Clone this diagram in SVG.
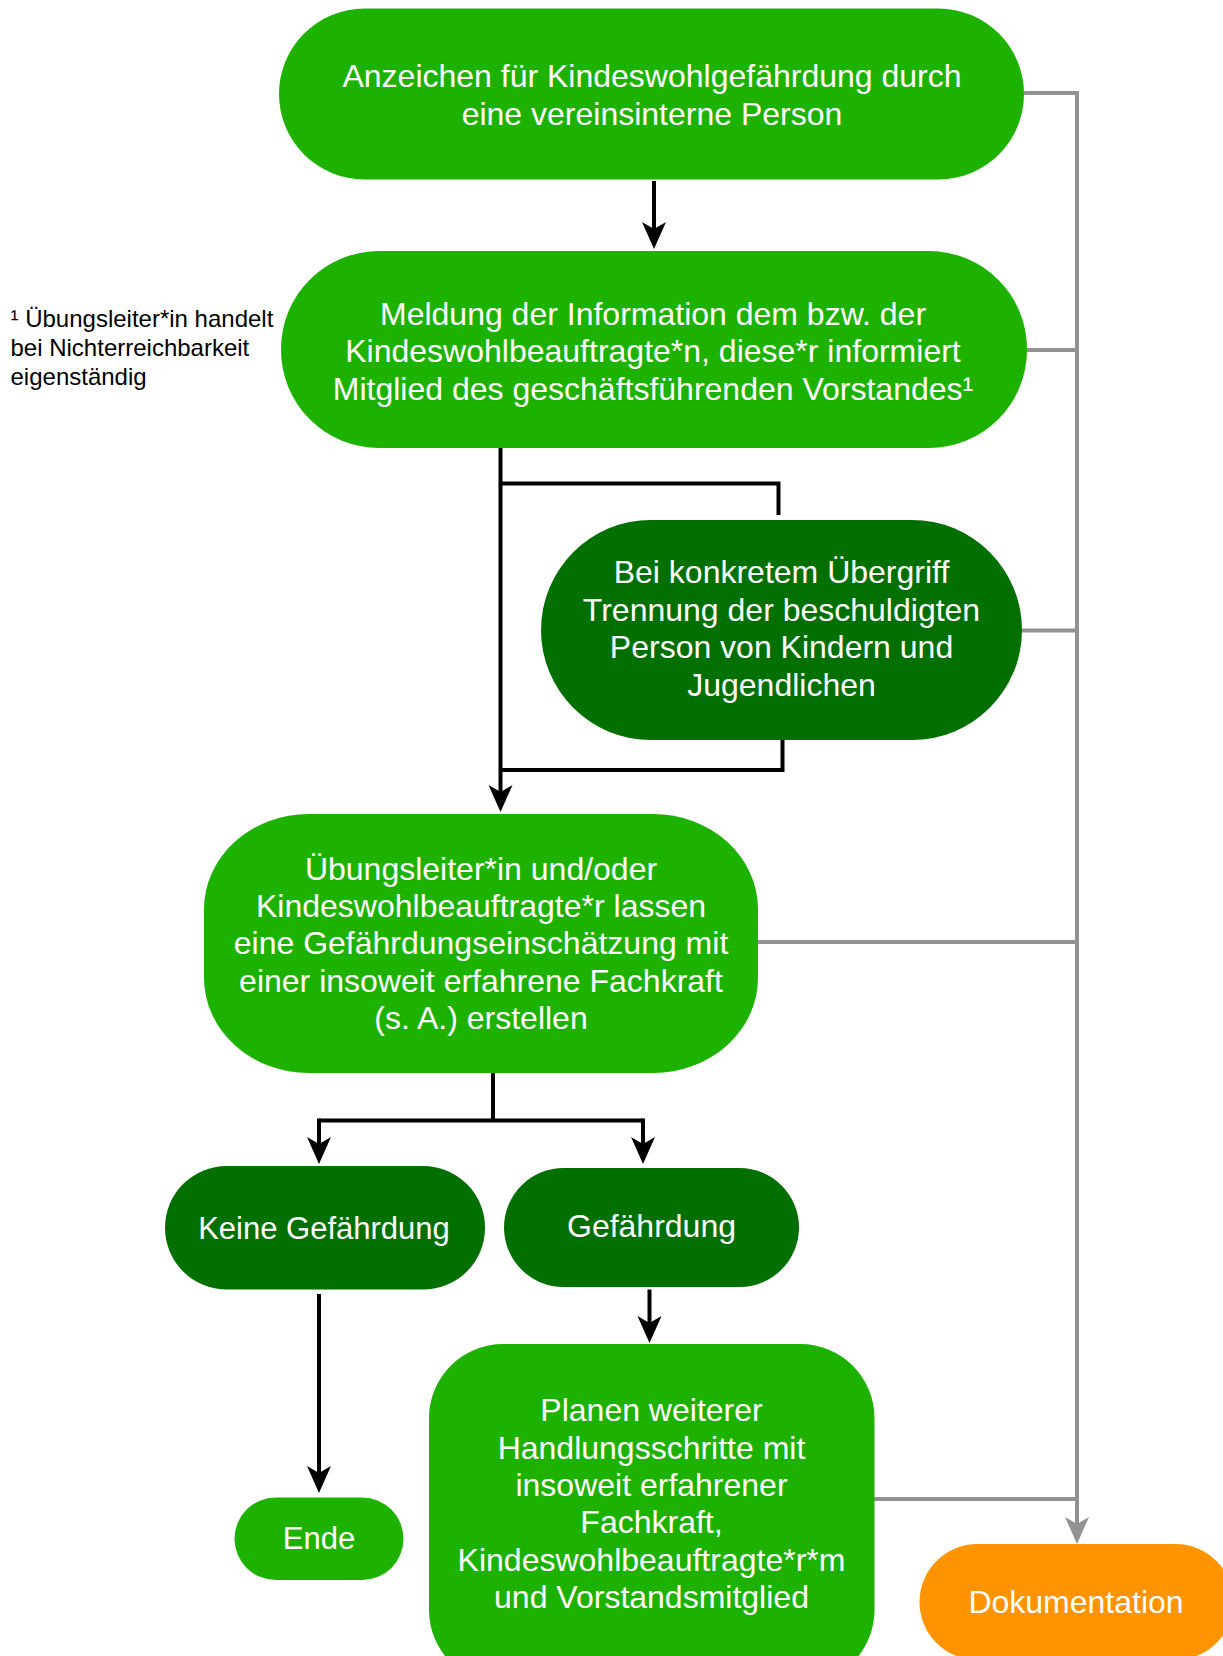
<svg xmlns="http://www.w3.org/2000/svg" width="1223" height="1656" viewBox="0 0 1223 1656">
<style>
.lg{fill:#1EB200}
.dg{fill:#017000}
.or{fill:#FF9300}
.t{font-family:"Liberation Sans",Arial,Helvetica,sans-serif;font-size:32px;fill:#ffffff;text-anchor:middle}
.fn{font-family:"Liberation Sans",Arial,Helvetica,sans-serif;font-size:24px;fill:#000000}
.bk{fill:none;stroke:#000000;stroke-width:4}
.gy{fill:none;stroke:#929292;stroke-width:4}
</style>
<defs>
<marker id="ab" markerUnits="userSpaceOnUse" markerWidth="60" markerHeight="60" refX="0" refY="0" viewBox="-30 -30 60 60" orient="auto" overflow="visible">
<path d="M20,0 L-7,-12 L0,0 L-7,12 Z" fill="#000000"/>
</marker>
<marker id="ag" markerUnits="userSpaceOnUse" markerWidth="60" markerHeight="60" refX="0" refY="0" viewBox="-30 -30 60 60" orient="auto" overflow="visible">
<path d="M20,0 L-7,-12 L0,0 L-7,12 Z" fill="#929292"/>
</marker>
</defs>
<rect width="1223" height="1656" fill="#ffffff"/>

<g id="connectors">
<path class="gy" d="M1024,93 H1077 V1524" marker-end="url(#ag)"/>
<path class="gy" d="M1027,350 H1077"/>
<path class="gy" d="M1022,630.5 H1077"/>
<path class="gy" d="M758,942 H1077"/>
<path class="gy" d="M874,1499 H1077"/>
<path class="bk" d="M654,181 V229" marker-end="url(#ab)"/>
<path class="bk" d="M500.5,448 V792" marker-end="url(#ab)"/>
<path class="bk" d="M500.5,483.5 H778.5 V515"/>
<path class="bk" d="M782.5,739 V770 H500.5"/>
<path class="bk" d="M493,1073 V1120.5"/>
<path class="bk" d="M319,1120.5 H643"/>
<path class="bk" d="M319,1118.5 V1144" marker-end="url(#ab)"/>
<path class="bk" d="M643,1118.5 V1144" marker-end="url(#ab)"/>
<path class="bk" d="M319,1294 V1473" marker-end="url(#ab)"/>
<path class="bk" d="M649.5,1289.5 V1323" marker-end="url(#ab)"/>
</g>

<g id="footnote">
<text class="fn" x="10.5" y="327">¹ Übungsleiter*in handelt</text>
<text class="fn" x="10.5" y="356">bei Nichterreichbarkeit</text>
<text class="fn" x="10.5" y="385">eigenständig</text>
</g>

<g id="n1">
<rect class="lg" x="279" y="8.5" width="745" height="171" rx="85.5" ry="85.5"/>
<text class="t" x="652" y="87">Anzeichen für Kindeswohlgefährdung durch</text>
<text class="t" x="652" y="125">eine vereinsinterne Person</text>
</g>

<g id="n2">
<rect class="lg" x="281" y="251" width="746" height="197" rx="98" ry="98"/>
<text class="t" x="653" y="325">Meldung der Information dem bzw. der</text>
<text class="t" x="653" y="362">Kindeswohlbeauftragte*n, diese*r informiert</text>
<text class="t" x="653" y="400">Mitglied des geschäftsführenden Vorstandes¹</text>
</g>

<g id="n3">
<rect class="dg" x="541" y="520" width="481" height="220" rx="110" ry="110"/>
<text class="t" x="781.5" y="583">Bei konkretem Übergriff</text>
<text class="t" x="781.5" y="621">Trennung der beschuldigten</text>
<text class="t" x="781.5" y="658">Person von Kindern und</text>
<text class="t" x="781.5" y="696">Jugendlichen</text>
</g>

<g id="n4">
<rect class="lg" x="204" y="814" width="554" height="259" rx="105" ry="95"/>
<text class="t" x="481" y="880">Übungsleiter*in und/oder</text>
<text class="t" x="481" y="917">Kindeswohlbeauftragte*r lassen</text>
<text class="t" x="481" y="954">eine Gefährdungseinschätzung mit</text>
<text class="t" x="481" y="992">einer insoweit erfahrene Fachkraft</text>
<text class="t" x="481" y="1029">(s. A.) erstellen</text>
</g>

<g id="n5">
<rect class="dg" x="165" y="1166" width="320" height="123.5" rx="61.75" ry="61.75"/>
<text class="t" x="324" y="1239" style="font-size:31px">Keine Gefährdung</text>
</g>

<g id="n6">
<rect class="dg" x="504" y="1168" width="295" height="119" rx="59.5" ry="59.5"/>
<text class="t" x="651.5" y="1237">Gefährdung</text>
</g>

<g id="n7">
<rect class="lg" x="234.5" y="1497.5" width="169" height="82.5" rx="41.25" ry="41.25"/>
<text class="t" x="319" y="1549" style="font-size:31px">Ende</text>
</g>

<g id="n8">
<rect class="lg" x="429" y="1344" width="445.5" height="340" rx="74" ry="74"/>
<text class="t" x="651.5" y="1421">Planen weiterer</text>
<text class="t" x="651.5" y="1459">Handlungsschritte mit</text>
<text class="t" x="651.5" y="1496">insoweit erfahrener</text>
<text class="t" x="651.5" y="1533">Fachkraft,</text>
<text class="t" x="651.5" y="1571">Kindeswohlbeauftragte*r*m</text>
<text class="t" x="651.5" y="1608">und Vorstandsmitglied</text>
</g>

<g id="n9">
<rect class="or" x="919.5" y="1544" width="314" height="116" rx="58" ry="58"/>
<text class="t" x="1076" y="1613">Dokumentation</text>
</g>
</svg>
